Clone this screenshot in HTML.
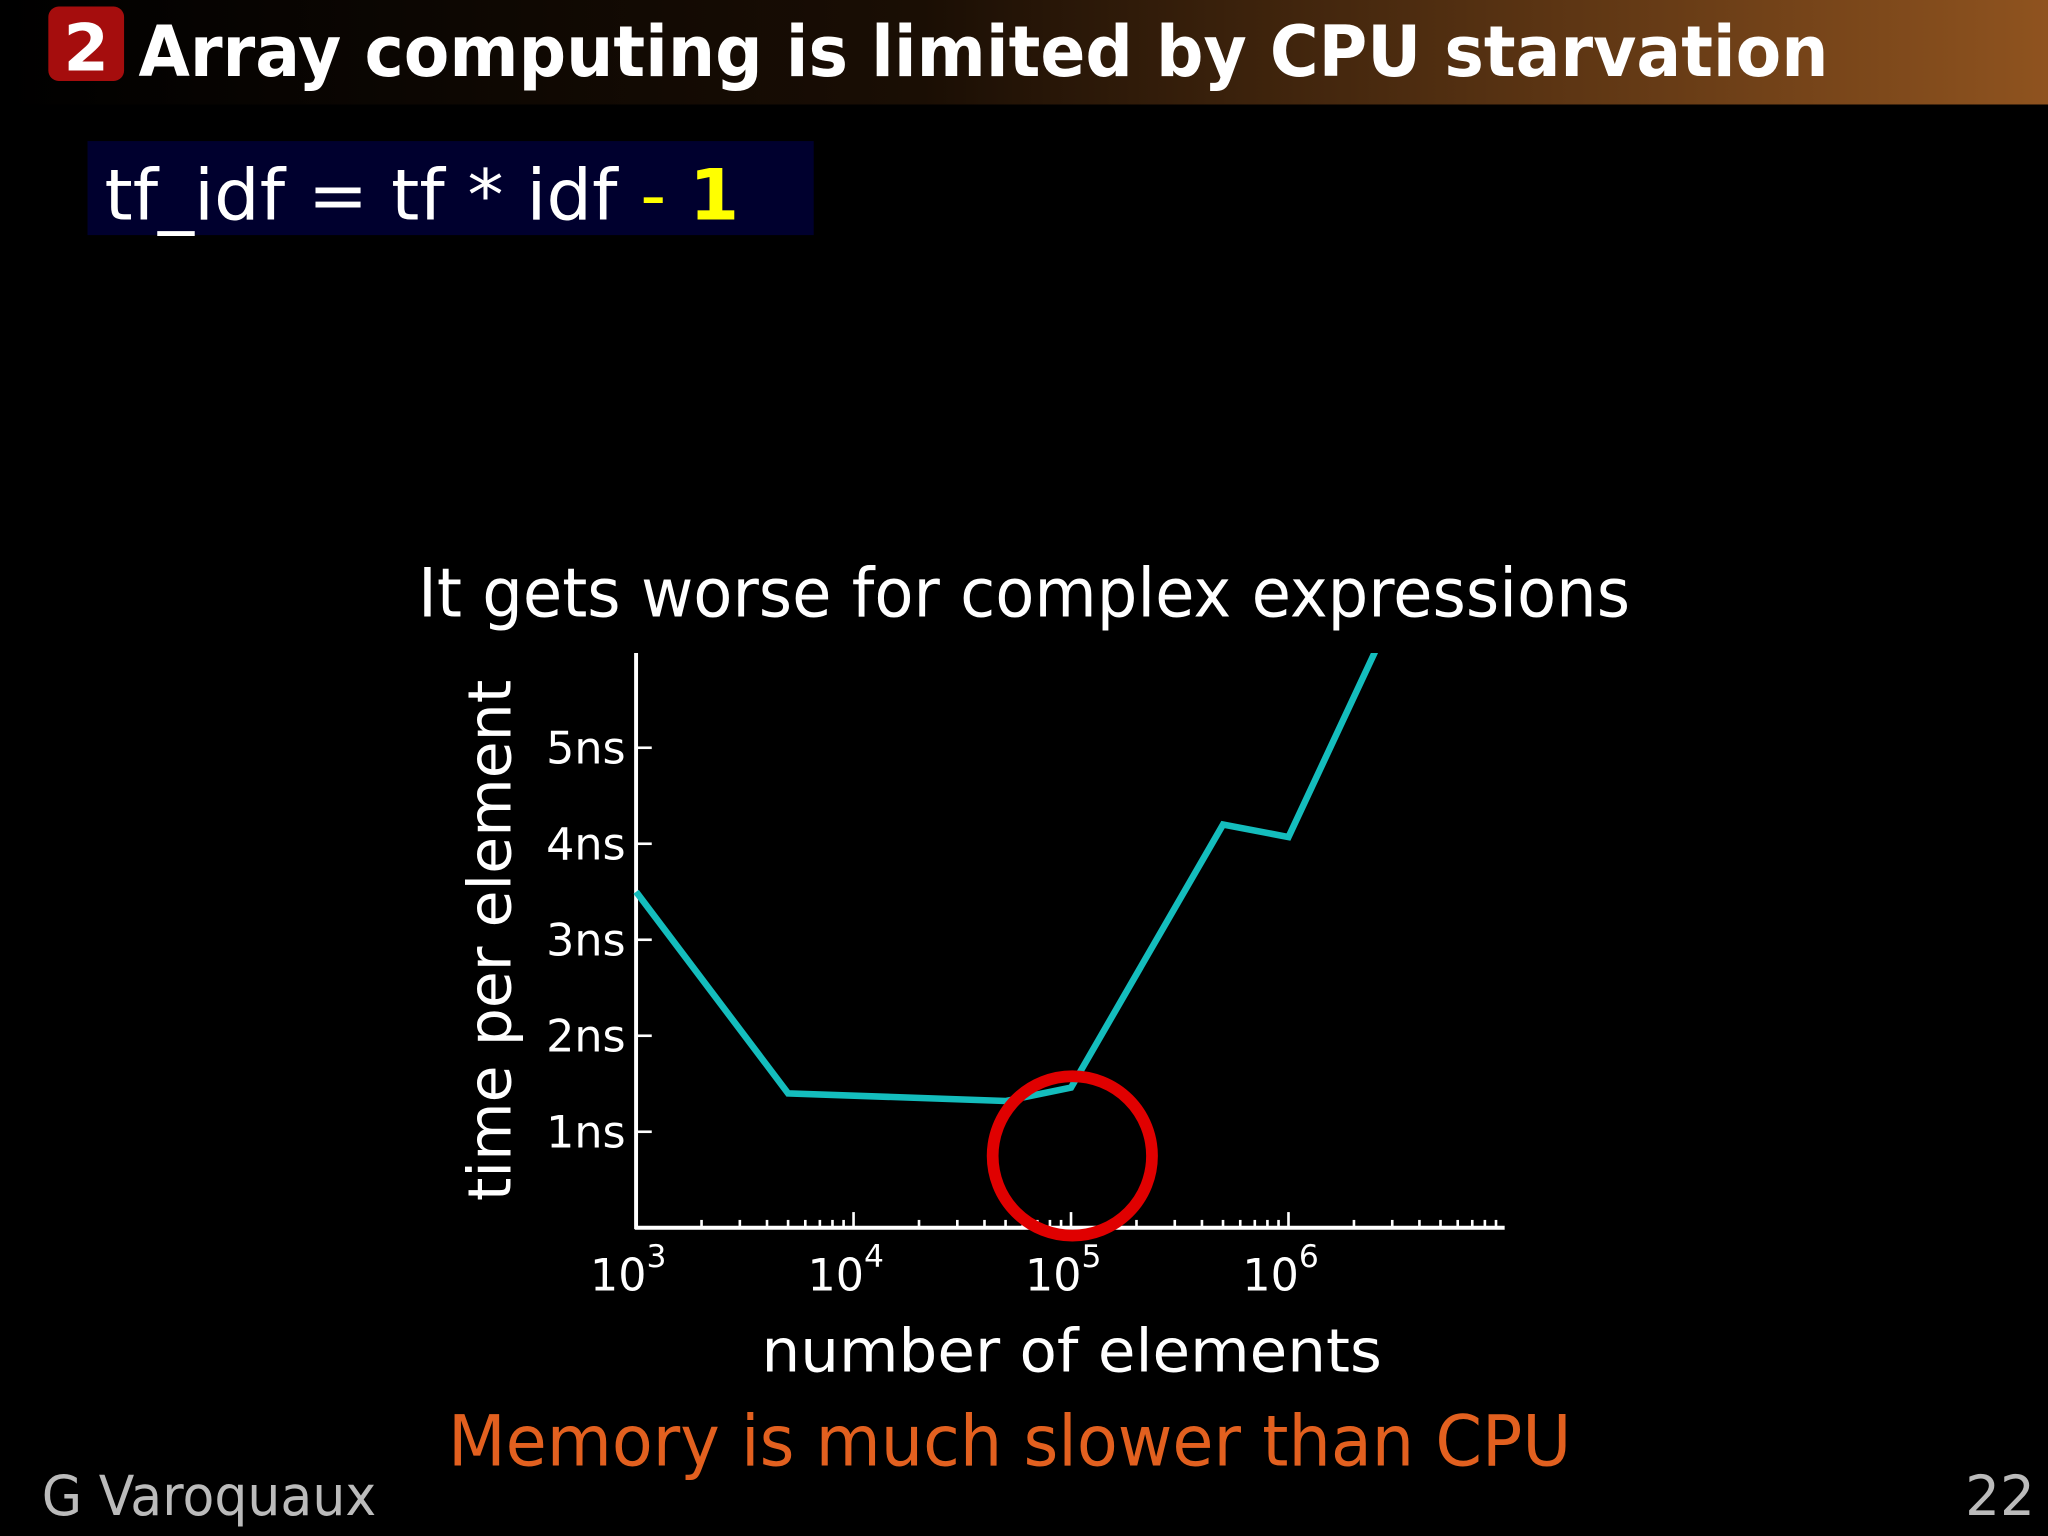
<!DOCTYPE html>
<html><head><meta charset="utf-8"><style>
html,body{margin:0;padding:0;background:#000;}
svg{display:block;}
text{font-family:"DejaVu Sans","Liberation Sans",sans-serif;}
</style></head><body>
<svg width="2048" height="1536" viewBox="0 0 1568 1176">
<defs><linearGradient id="tg" x1="0" x2="1"><stop offset="0" stop-color="#000"/><stop offset="0.45" stop-color="#1a0e04"/><stop offset="1" stop-color="#8f531f"/></linearGradient></defs>
<rect x="0" y="0" width="1568" height="80" fill="url(#tg)"/>
<rect x="37" y="5" width="58" height="57" rx="8" fill="#a50d0d"/>
<text x="66" y="54" font-size="50" font-weight="bold" fill="#fff" text-anchor="middle">2</text>
<text x="106" y="58" font-size="54" font-weight="bold" fill="#fff" textLength="1294" lengthAdjust="spacingAndGlyphs">Array computing is limited by CPU starvation</text>
<rect x="67" y="108" width="556" height="72" fill="#00002e"/>
<text x="80" y="168" font-size="54" fill="#fff" textLength="486" lengthAdjust="spacingAndGlyphs">tf_idf = tf * idf <tspan fill="#ffff00">- <tspan font-weight="bold">1</tspan></tspan></text>
<text x="320" y="472" font-size="52" fill="#fff" textLength="928" lengthAdjust="spacingAndGlyphs">It gets worse for complex expressions</text>
<g id="chart"></g>
<text x="583" y="1050" font-size="46" fill="#fff" textLength="475" lengthAdjust="spacingAndGlyphs">number of elements</text>
<text transform="translate(391,720) rotate(-90)" font-size="46" fill="#fff" text-anchor="middle">time per element</text>
<text x="343" y="1122" font-size="54" fill="#e2601f" textLength="860" lengthAdjust="spacingAndGlyphs">Memory is much slower than CPU</text>
<text x="32" y="1160" font-size="42" fill="#bbb" textLength="256" lengthAdjust="spacingAndGlyphs">G Varoquaux</text>
<text x="1558" y="1160" font-size="42" fill="#bbb" text-anchor="end">22</text>
</svg>
<script>
const sizes=[1000,5000,50000,100000,500000,1000000,2500000];
const times=[3.5,1.4,1.32,1.46,4.2,4.07,6.0];
const yTicks=[1,2,3,4,5];
const yTickLabels=["1ns","2ns","3ns","4ns","5ns"];
const xMajor=[3,4,5,6];
const NS="http://www.w3.org/2000/svg";
const g=document.getElementById('chart');
const X=v=>487+(Math.log10(v)-3)*166.5;
const Y=v=>940-v*73.5;
function mk(t,a){const e=document.createElementNS(NS,t);for(const k in a)e.setAttribute(k,a[k]);g.appendChild(e);return e;}
const clip=document.createElementNS(NS,'clipPath');clip.setAttribute('id','pc');
const cr=document.createElementNS(NS,'rect');cr.setAttribute('x',480);cr.setAttribute('y',500);cr.setAttribute('width',700);cr.setAttribute('height',450);clip.appendChild(cr);g.appendChild(clip);
let e=mk('line',{x1:487,y1:500,x2:487,y2:941,stroke:'#fff','stroke-width':3});


e=mk('line',{x1:486,y1:940,x2:1152,y2:940,stroke:'#fff','stroke-width':3});


yTicks.forEach((v,i)=>{
 let t=mk('line',{x1:487,y1:Y(v),x2:499,y2:Y(v),stroke:'#fff','stroke-width':2});
 
 
 let l=mk('text',{x:479,y:Y(v)+12,'font-size':34,fill:'#fff','text-anchor':'end'});l.textContent=yTickLabels[i];
 
 
});
for(let d=3;d<7;d++){for(let m=2;m<10;m++){
 const x=X(m*Math.pow(10,d));
 let t=mk('line',{x1:x,y1:940,x2:x,y2:934,stroke:'#fff','stroke-width':2});
 
 
}}
xMajor.forEach(p=>{
 const x=X(Math.pow(10,p));
 let t=mk('line',{x1:x,y1:940,x2:x,y2:928,stroke:'#fff','stroke-width':2});
 
 
 let l=mk('text',{x:x-6,y:988,'font-size':34,fill:'#fff','text-anchor':'middle'});
 l.innerHTML='10<tspan dy="-18" font-size="24">'+p+'</tspan>';
 
 
});
const pts=sizes.map((s,i)=>X(s)+','+Y(times[i])).join(' ');
e=mk('polyline',{points:pts,fill:'none',stroke:'#14bdbd','stroke-width':5,'clip-path':'url(#pc)','stroke-linejoin':'miter'});


e=mk('circle',{cx:821,cy:885,r:61,fill:'none',stroke:'#e00000','stroke-width':9});


</script>
</body></html>
